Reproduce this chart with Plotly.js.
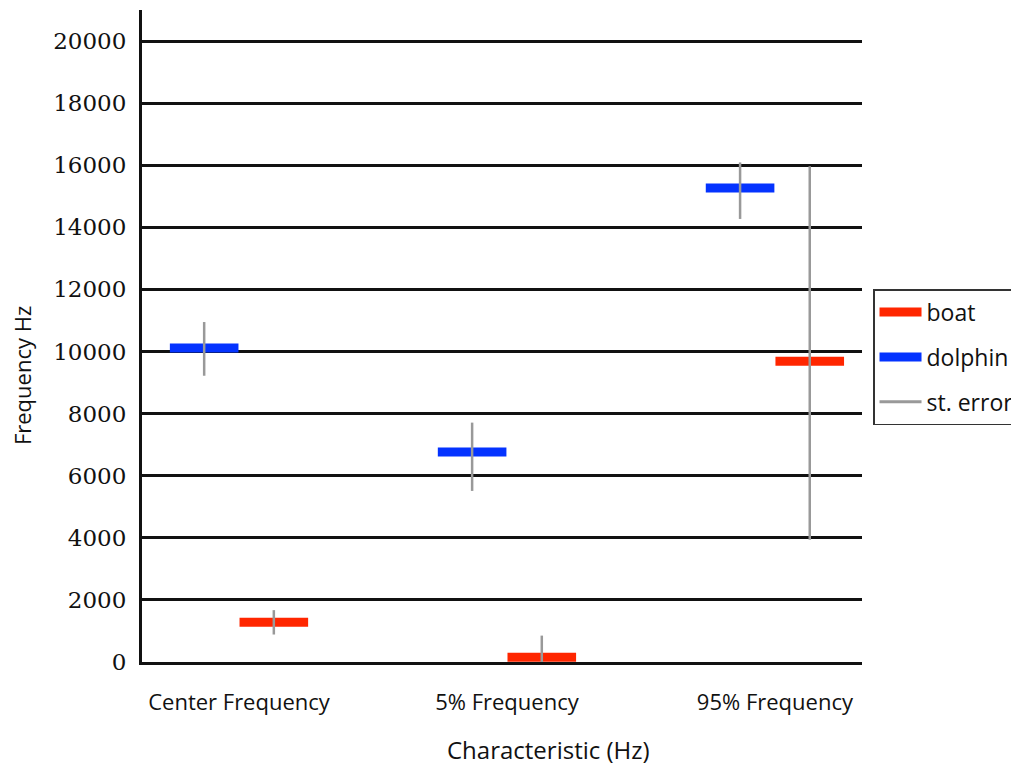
<!DOCTYPE html>
<html>
<head>
<meta charset="utf-8">
<script src="https://cdn.plot.ly/plotly-3.0.1.min.js"></script>
<style>html,body{margin:0;padding:0;background:#fff;}#chart{width:1011px;height:765px;}</style>
</head>
<body>
<div id="chart"></div>
<script>
const categories = ["Center Frequency", "5% Frequency", "95% Frequency"];
const boatValues = [1280, 150, 9690];
const dolphinValues = [10110, 6760, 15270];
const boatErrUp = [390, 700, 6280];
const boatErrDown = [395, 700, 5750];
const dolphinErrUp = [840, 950, 820];
const dolphinErrDown = [890, 1250, 1000];
const yTickVals = [0, 2000, 4000, 6000, 8000, 10000, 12000, 14000, 16000, 18000, 20000];

const RED = "#FF2600", BLUE = "#0433FF", GRAY = "#999999";
const SANS = "Open Sans, Noto Sans, sans-serif";

function barTrace(name, vals, color) {
  return {
    type: "scatter", mode: "markers", x: categories, y: vals, name: name,
    offsetgroup: name, showlegend: false, hoverinfo: "skip",
    marker: {symbol: "line-ew", size: 49, color: color, line: {color: color, width: 9}}
  };
}
function errTrace(name, vals, up, down) {
  return {
    type: "scatter", mode: "markers", x: categories, y: vals, name: name + " err",
    offsetgroup: name, showlegend: false, hoverinfo: "skip",
    marker: {size: 1, opacity: 0},
    error_y: {type: "data", symmetric: false, array: up, arrayminus: down,
              color: GRAY, thickness: 2.5, width: 0}
  };
}
function legendTrace(name, color, width, group, rank) {
  return {
    type: "scatter", mode: "lines", x: [null], y: [null], name: name,
    offsetgroup: group, legendgroup: name, legendrank: rank, hoverinfo: "skip",
    line: {color: color, width: width}
  };
}

const data = [
  barTrace("dolphin", dolphinValues, BLUE),
  barTrace("boat", boatValues, RED),
  errTrace("dolphin", dolphinValues, dolphinErrUp, dolphinErrDown),
  errTrace("boat", boatValues, boatErrUp, boatErrDown),
  legendTrace("boat", RED, 9, "boat", 1),
  legendTrace("dolphin", BLUE, 9, "dolphin", 2),
  legendTrace("st. error", GRAY, 3, "boat", 3)
];

const layout = {
  width: 1011, height: 765,
  margin: {l: 142, r: 149, t: 10, b: 103, autoexpand: false},
  paper_bgcolor: "#fff", plot_bgcolor: "#fff",
  scattermode: "group", scattergap: 0.48,
  showlegend: true,
  xaxis: {
    type: "category", range: [-0.362, 2.325],
    showgrid: false, zeroline: false,
    showline: true, linecolor: "#111", linewidth: 3,
    ticks: "", ticklabelstandoff: 19,
    tickfont: {family: SANS, size: 22, color: "#111"}
  },
  yaxis: {
    range: [0, 21000], tickvals: yTickVals, tickformat: "d",
    showgrid: true, gridcolor: "#111", gridwidth: 3,
    zeroline: false,
    showline: true, linecolor: "#111", linewidth: 3,
    ticks: "", ticklabelstandoff: 8,
    tickfont: {family: "DejaVu Serif, serif", size: 23, color: "#111"}
  },
  legend: {
    x: 1.0153, y: 0.572, xanchor: "left", yanchor: "top",
    bgcolor: "#fff", bordercolor: "#333", borderwidth: 1.5,
    font: {family: SANS, size: 23, color: "#111"},
    traceorder: "grouped", tracegroupgap: 12, itemwidth: 42
  },
  annotations: [
    {text: "Frequency Hz", xref: "paper", yref: "paper", x: -0.1667, y: 0.44,
     xanchor: "center", yanchor: "middle", textangle: -90, showarrow: false,
     font: {family: SANS, size: 22, color: "#111"}},
    {text: "Characteristic (Hz)", xref: "paper", yref: "paper", x: 0.564, y: -0.134,
     xanchor: "center", yanchor: "middle", showarrow: false,
     font: {family: SANS, size: 24, color: "#111"}}
  ]
};

Plotly.newPlot("chart", data, layout, {displayModeBar: false, staticPlot: true});
</script>
</body>
</html>
